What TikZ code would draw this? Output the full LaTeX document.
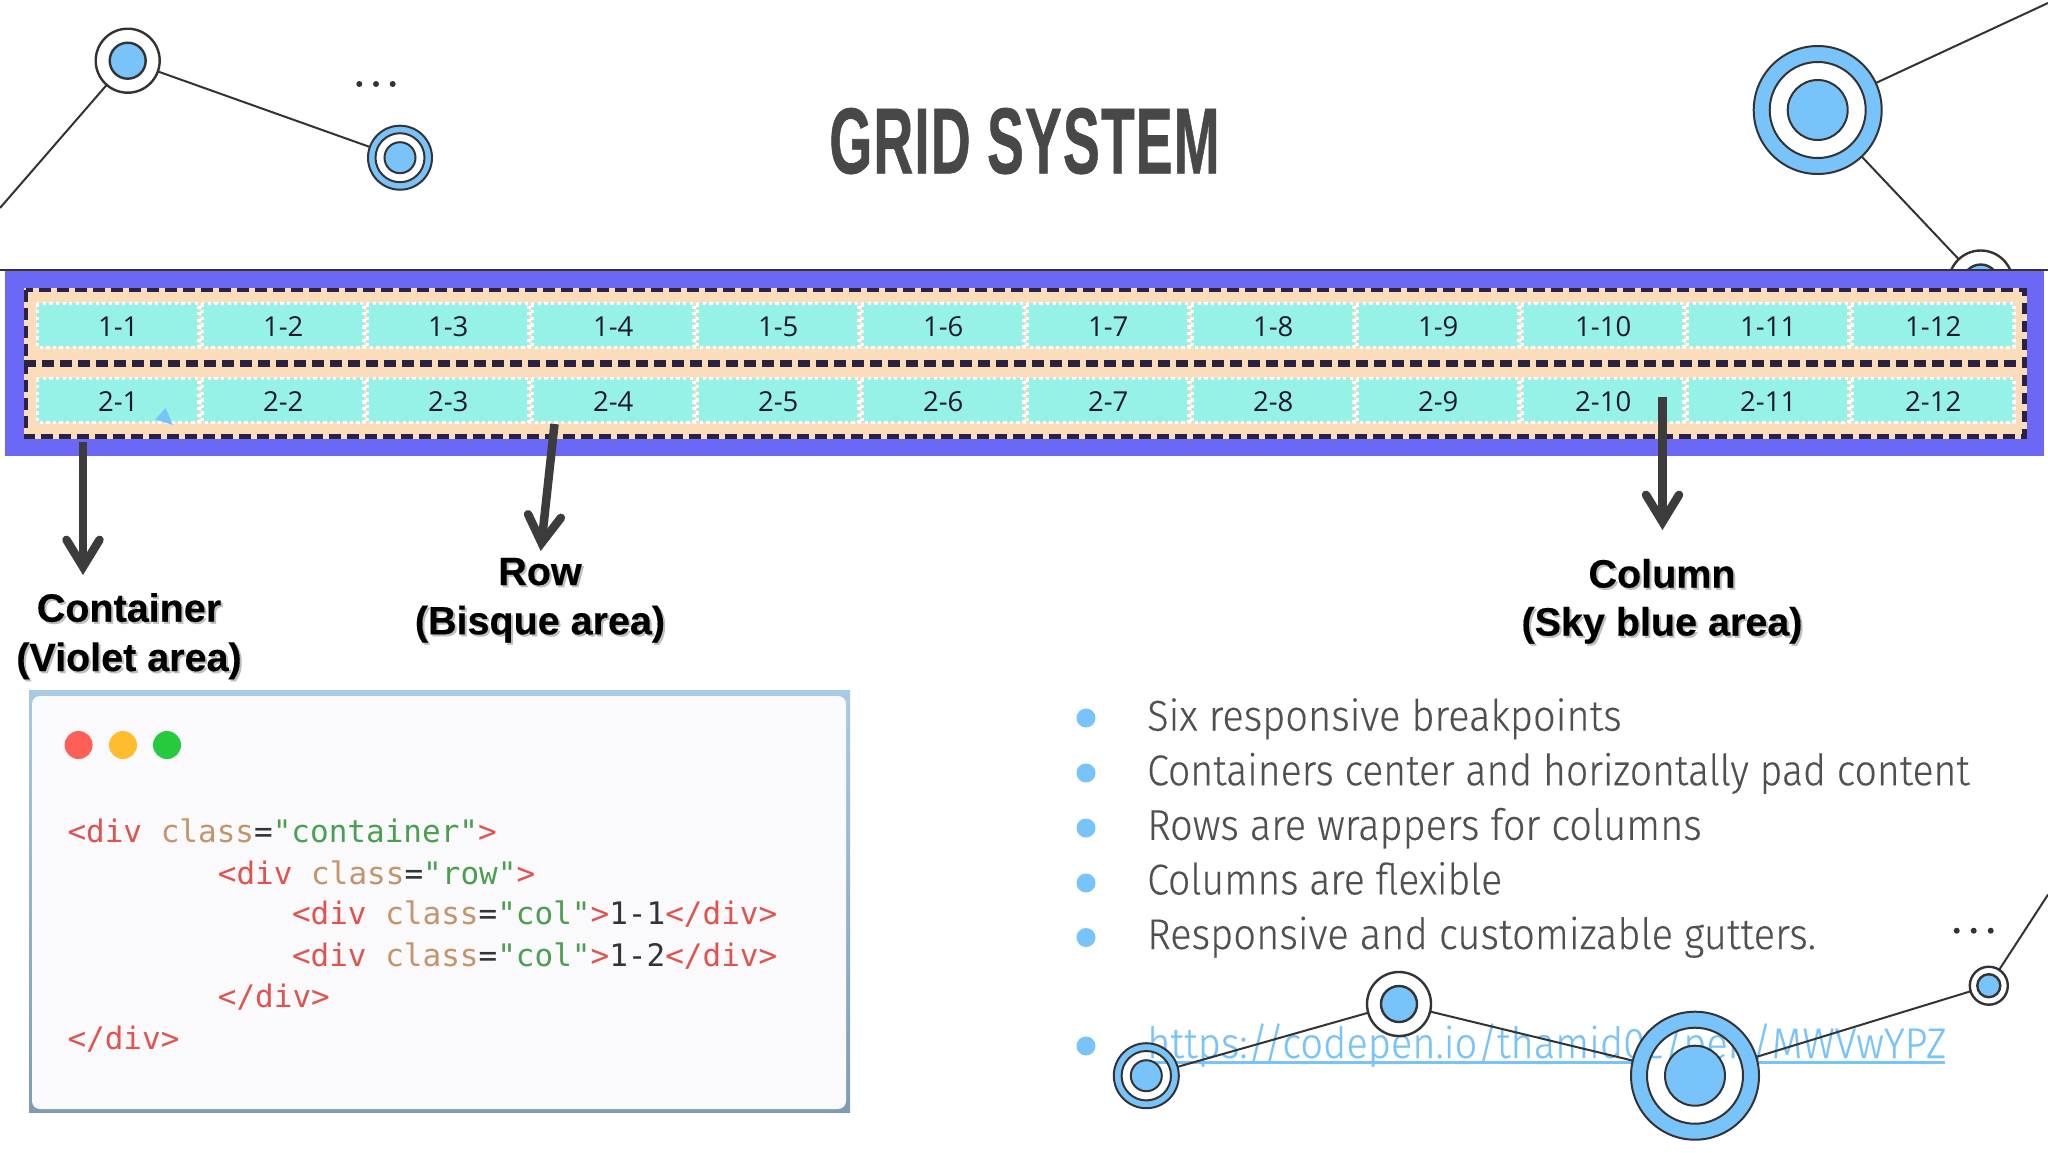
\documentclass[tikz,border=0pt]{standalone}
\usepackage{fontspec}
\usepackage{graphicx}
\usetikzlibrary{arrows.meta}
\newfontfamily\titlefont[FakeBold=0.8,LetterSpace=2]{Liberation Sans Bold}
\newfontfamily\labelfont[FakeBold=0.3]{Liberation Sans Bold}
\newfontfamily\cellfont{Open Sans}
\newfontfamily\bodyfont[FakeBold=0.25]{Fira Sans Light}
\newfontfamily\codefont{DejaVu Sans Mono}
\definecolor{sky}{HTML}{78C3F9}
\definecolor{ink}{HTML}{333333}
\definecolor{violetarea}{HTML}{6B68F5}
\definecolor{bisquearea}{HTML}{FCDDBB}
\definecolor{cellarea}{HTML}{96F1E7}
\definecolor{dashink}{HTML}{2B2140}
\definecolor{bodygrey}{HTML}{505050}
\definecolor{titlegrey}{HTML}{484848}
\definecolor{arrowgrey}{HTML}{3C3C3C}
\definecolor{codered}{HTML}{E0534F}
\definecolor{codetan}{HTML}{C4956A}
\definecolor{codegreen}{HTML}{4C9F50}
\definecolor{framea}{HTML}{A9CAE4}
\definecolor{frameb}{HTML}{7F9CB2}
\definecolor{paper}{HTML}{FAFAFC}
\definecolor{lampr}{HTML}{FF5F56}
\definecolor{lampy}{HTML}{FFBD2E}
\definecolor{lampg}{HTML}{27C93F}
\newcommand\cTag[1]{\textcolor{codered}{#1}}
\newcommand\cAttr[1]{\textcolor{codetan}{#1}}
\newcommand\cStr[1]{\textcolor{codegreen}{#1}}
\newcommand\cPlain[1]{\textcolor{ink}{#1}}
\tikzset{
  netline/.style={draw=ink,line width=2pt},
  hubedge/.style={circle,draw=ink,inner sep=0pt,outer sep=0pt},
  cellbox/.style={rectangle,fill=cellarea,inner sep=0pt,outer sep=0pt,minimum width=161.6pt,minimum height=44pt,
    text=dashink!70!black,font=\cellfont\fontsize{27.5}{27.5}\selectfont},
  celldots/.style={draw=white,line width=3.4pt,dash pattern=on 3.3pt off 3.3pt},
  bulletdot/.style={circle,fill=sky,inner sep=0pt,minimum size=19pt},
  bodytext/.style={anchor=base west,inner sep=0pt,text=bodygrey,font=\bodyfont\fontsize{43}{43}\selectfont},
  codetext/.style={anchor=base west,inner sep=0pt,font=\codefont\fontsize{31}{31}\selectfont},
  calloutarrow/.style={draw=arrowgrey,line width=8.5pt,-{Straight Barb[length=27pt,width=33pt,line cap=round]}},
  calloutlabel/.style={anchor=base,inner sep=0pt,text=black,font=\labelfont\fontsize{39.5}{39.5}\selectfont},
  calloutshadow/.style={anchor=base,inner sep=0pt,text=black!45,opacity=.55,font=\labelfont\fontsize{39.5}{39.5}\selectfont},
  window/.style={circle,inner sep=0pt,minimum size=28pt}
}
% name, x, y, outer r, middle r, inner r : a blue ring around a blue core
\newcommand\ringhub[6]{%
  \coordinate (#1c) at (#2,#3);
  \fill[sky,even odd rule] (#1c) circle[radius=#4] (#1c) circle[radius=#5];
  \draw[ink,line width=2pt] (#1c) circle[radius=#5];
  \fill[sky,draw=ink,line width=2pt] (#1c) circle[radius=#6];
  \node[hubedge,line width=2pt,minimum size=#4*2pt] (#1) at (#1c) {};
}
% name, x, y, outer r, core r : a white disc around a blue core
\newcommand\discore[5]{%
  \node[hubedge,line width=2.4pt,fill=white,minimum size=#4*2pt] (#1) at (#2,#3) {};
  \fill[sky,draw=ink,line width=2.4pt] (#1.center) circle[radius=#5];
}
\begin{document}
\begin{tikzpicture}[x=1pt,y=-1pt]
\useasboundingbox (0,0) rectangle (2048,1152);
\fill[white] (0,0) rectangle (2048,1152);

% top-left network
\coordinate (tlend) at (0,208);
\discore{tla}{127.7}{60.7}{32}{18}
\ringhub{tlb}{400}{157.7}{32}{24.5}{15.5}
\draw[netline] (tlend) -- (tla);
\draw[netline] (tla) -- (tlb);
\fill[ink] (359.3,84) circle[radius=3] (376,84) circle[radius=3] (392.7,84) circle[radius=3];

% top-right network
\coordinate (trend) at (2048,3);
\ringhub{trb}{1817.7}{110}{64}{48}{30}
\discore{trs}{1980.7}{282.5}{32}{18}
\draw[netline] (trb) -- (trend);
\draw[netline] (trb) -- (trs);

% title
\node[inner sep=0pt,anchor=base,text=titlegrey] (title) at (1024.5,173.3)
  {\scalebox{0.59}[1]{\titlefont\fontsize{93.6}{93.6}\selectfont GRID SYSTEM}};

% grid band
\fill[violetarea] (5.3,269.5) rectangle (2044,455.7);
\draw[ink,line width=2pt] (0,269.5) -- (2048,269.5);
\fill[bisquearea] (24,287.7) rectangle (2026.7,439);
\draw[dashink,line width=4.8pt,dash pattern=on 11.5pt off 6.5pt] (26,290) rectangle (2024.7,436.7);
\draw[dashink,line width=6.4pt,dash pattern=on 11.5pt off 6.5pt] (24,363.4) -- (2026,363.4);

\foreach \i in {1,...,12}{
  \pgfmathsetmacro\cx{35.7+165*(\i-1)+82.5}
  \node[cellbox] (ra\i) at (\cx,325.4) {\raisebox{-1.3pt}[\height][0pt]{1-\i}};
  \draw[celldots] (ra\i.north west) rectangle (ra\i.south east);
  \node[cellbox] (rb\i) at (\cx,400.4) {\raisebox{-1.3pt}[\height][0pt]{2-\i}};
  \draw[celldots] (rb\i.north west) rectangle (rb\i.south east);
}
\fill[sky] (165.7,408) -- (155.3,419.3) -- (172.7,425) -- cycle;

% callout labels
\node[calloutshadow] at (131,623.7) {Container};
\node[calloutshadow] at (131,673) {(Violet area)};
\node[calloutshadow] at (542,587) {Row};
\node[calloutshadow] at (542,636.3) {(Bisque area)};
\node[calloutshadow] at (1664,589.5) {Column};
\node[calloutshadow] at (1664,637.5) {(Sky blue area)};
\node[calloutlabel] (lcontainer) at (129,621.7) {Container};
\node[calloutlabel] (lviolet) at (129,671) {(Violet area)};
\node[calloutlabel] (lrow) at (540,585) {Row};
\node[calloutlabel] (lbisque) at (540,634.3) {(Bisque area)};
\node[calloutlabel] (lcolumn) at (1662,587.5) {Column};
\node[calloutlabel] (lsky) at (1662,635.5) {(Sky blue area)};

% callout arrows
\coordinate (acs) at (83,441.7);  \coordinate (ace) at (83,575);
\coordinate (ars) at (554.5,424); \coordinate (are) at (540.7,551);
\coordinate (aks) at (1662.5,396.7); \coordinate (ake) at (1662.5,530);
\draw[calloutarrow] (acs) -- (ace);
\draw[calloutarrow] (ars) -- (are);
\draw[calloutarrow] (aks) -- (ake);

% code window
\shade[top color=framea,bottom color=frameb,draw=none] (29,690) rectangle (850,1112);
\fill[paper] (32,696) [rounded corners=8pt] rectangle (846,1109);
\node[window,fill=lampr] (wr) at (78.6,745) {};
\node[window,fill=lampy] (wy) at (123,745) {};
\node[window,fill=lampg] (wg) at (167,745) {};
\node[codetext] (c1) at (67.3,842.7) {\cTag{<div} \cAttr{class}\cPlain{=}\cStr{"container"}\cTag{>}};
\node[codetext] (c2) at (217.7,884) {\cTag{<div} \cAttr{class}\cPlain{=}\cStr{"row"}\cTag{>}};
\node[codetext] (c3) at (291.8,924.7) {\cTag{<div} \cAttr{class}\cPlain{=}\cStr{"col"}\cTag{>}\cPlain{1-1}\cTag{</div>}};
\node[codetext] (c4) at (291.8,966.7) {\cTag{<div} \cAttr{class}\cPlain{=}\cStr{"col"}\cTag{>}\cPlain{1-2}\cTag{</div>}};
\node[codetext] (c5) at (217.7,1007.3) {\cTag{</div>}};
\node[codetext] (c6) at (67.3,1049) {\cTag{</div>}};

% bullets
\node[bulletdot] (b1) at (1086,718) {};
\node[bulletdot] (b2) at (1086,773) {};
\node[bulletdot] (b3) at (1086,828) {};
\node[bulletdot] (b4) at (1086,883) {};
\node[bulletdot] (b5) at (1086,937.5) {};
\node[bulletdot] (b6) at (1086,1046) {};
\node[bodytext] (t1) at (1147,730.6) {\scalebox{0.925}[1]{Six responsive breakpoints}};
\node[bodytext] (t2) at (1147,785.2) {\scalebox{0.91}[1]{Containers center and horizontally pad content}};
\node[bodytext] (t3) at (1147,839.8) {\scalebox{0.923}[1]{Rows are wrappers for columns}};
\node[bodytext] (t4) at (1147,894.4) {\scalebox{0.91}[1]{Columns are flexible}};
\node[bodytext] (t5) at (1147,949) {\scalebox{0.928}[1]{Responsive and customizable gutters.}};
\node[bodytext,text=sky] (t6) at (1147,1058) {\scalebox{0.927}[1]{https://codepen.io/thamid02/pen/MWVwYPZ}};
\draw[sky,line width=2.6pt] (1148,1062.5) -- (1632,1062.5) (1758,1062.5) -- (1945,1062.5);

% bottom network
\coordinate (brend) at (2048,894.6);
\ringhub{ba}{1146.3}{1075.7}{32.5}{24.7}{15.5}
\discore{bb}{1399}{1004}{32}{18}
\ringhub{bc}{1695}{1075.7}{64}{48}{30}
\discore{bd}{1988.8}{985.7}{19}{11.5}
\draw[netline] (ba) -- (bb);
\draw[netline] (bb) -- (bc);
\draw[netline] (bc) -- (bd);
\draw[netline] (bd) -- (brend);
\fill[ink] (1956.7,930.7) circle[radius=3] (1973.7,930.7) circle[radius=3] (1990.7,930.7) circle[radius=3];
\end{tikzpicture}
\end{document}
